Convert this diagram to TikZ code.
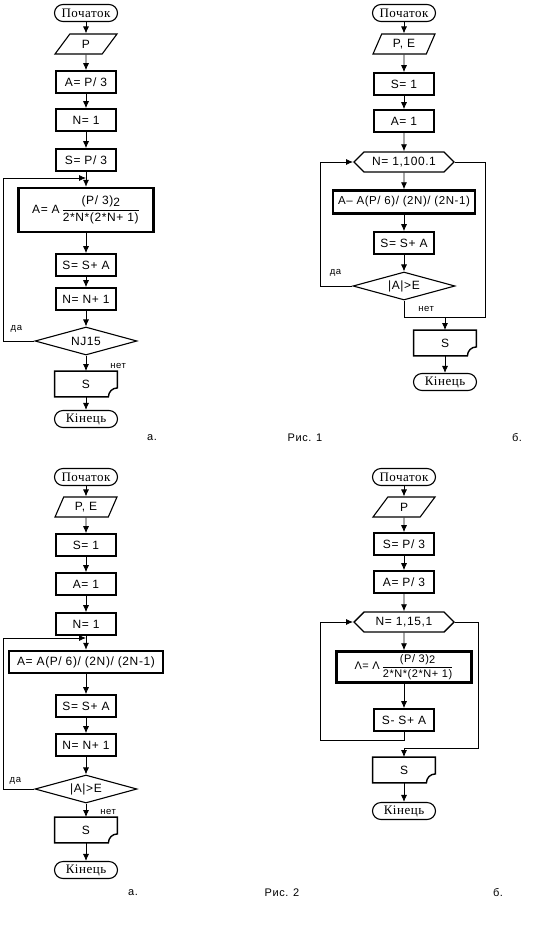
\documentclass[tikz,border=0pt]{standalone}
\usepackage{amsmath}
\usepackage{fontspec}
\setmainfont{Liberation Sans}[LetterSpace=5]
\newfontfamily\termfont{Liberation Serif}[LetterSpace=4]
\usetikzlibrary{positioning,shapes.geometric,shapes.symbols,arrows.meta}
\newcommand{\docshape}[1]{\draw[line width=1.4pt] (#1.north west) -- (#1.north east) -- ([yshift=9pt]#1.south east) arc[start angle=90,end angle=180,radius=9pt] -- (#1.south west) -- cycle;}
\begin{document}
\begin{tikzpicture}[x=1pt,y=1pt,on grid,line width=0.8pt,
>={Latex[length=7pt,width=6pt]},
font=\fontsize{12}{12}\selectfont,
term/.style={rectangle,rounded corners=8.5pt,draw,line width=1.1pt,
  minimum width=63pt,minimum height=17pt,inner sep=0pt,
  font=\termfont\fontsize{13}{13}\selectfont},
io/.style={trapezium,trapezium left angle=66,trapezium right angle=114,
  trapezium stretches=true,draw,line width=1.1pt,
  minimum width=62pt,minimum height=20pt,inner sep=0pt},
proc/.style={rectangle,draw,line width=1.6pt,minimum width=60pt,
  minimum height=22pt,inner sep=1pt},
bigbox/.style={proc,line width=2.4pt},
cond/.style={diamond,draw,line width=1.1pt,aspect=3.6,
  minimum width=102pt,minimum height=28pt,inner sep=0pt},
loopbox/.style={signal,signal to=west and east,signal pointer angle=90,
  draw,line width=1.4pt,minimum width=100pt,minimum height=20pt,inner sep=0pt},
outbox/.style={rectangle,minimum width=62pt,minimum height=25pt,inner sep=0pt},
lab/.style={font=\fontsize{9.5}{10}\selectfont,inner sep=0pt},
figlabel/.style={font=\fontsize{11}{11}\selectfont,inner sep=0pt}]
\useasboundingbox (0,0) rectangle (535,-927);
% Рис. 1 а
\node[term] (a1) at (86,-13) {Початок};
\node[io] (a2) [below=31pt of a1] {P};
\node[proc] (a3) [below=38pt of a2] {A= P/ 3};
\node[proc] (a4) [below=38pt of a3] {N= 1};
\node[proc] (a5) [below=40pt of a4] {S= P/ 3};
\coordinate (a6in) at ([yshift=-18pt]a5.center);
\node[bigbox,minimum width=135pt,minimum height=44pt] (a6) [below=50pt of a5]
  {A= A\,$\dfrac{\text{(P/ 3)\raisebox{-1.5pt}{2}}}{\text{2*N*(2*N+ 1)}}$};
\node[proc] (a7) [below=55pt of a6] {S= S+ A};
\node[proc] (a8) [below=34pt of a7] {N= N+ 1};
\node[cond] (a9) [below=42pt of a8] {NJ15};
\node[outbox] (a10) [below=43pt of a9] {S};
\node[term] (a11) [below=35pt of a10] {Кінець};
\coordinate (aret) at (3,-178);
\node[lab] (a9yes) [above left=8pt and 12pt of a9.west] {да};
\node[lab] (a9no) [below right=7pt and 24pt of a9.south] {нет};
\docshape{a10}
\draw[->] (a1) -- (a2);
\draw[->] (a2) -- (a3);
\draw[->] (a3) -- (a4);
\draw[->] (a4) -- (a5);
\draw (a5) -- (a6in);
\draw[->] (a6in) -- (a6);
\draw[->] (a6) -- (a7);
\draw[->] (a7) -- (a8);
\draw[->] (a8) -- (a9);
\draw[->] (a9) -- (a10);
\draw[->] (a10) -- (a11);
\draw[->] (a9.west) -- (a9.west -| aret) -- (aret) -- (a6in);
% Рис. 1 б
\node[term] (b1) at (404,-13) {Початок};
\node[io] (b2) [below=31pt of b1] {P, E};
\node[proc] (b3) [below=40pt of b2] {S= 1};
\node[proc] (b4) [below=37pt of b3] {A= 1};
\node[loopbox] (b5) [below=41pt of b4] {N= 1,100.1};
\node[bigbox,minimum width=142pt,minimum height=23pt,font=\fontsize{11.5}{12}\selectfont]
  (b6) [below=40pt of b5] {A– A(P/ 6)/ (2N)/ (2N-1)};
\node[proc] (b7) [below=41pt of b6] {S= S+ A};
\node[cond] (b8) [below=43pt of b7] {|A|>E};
\coordinate (bjoin) at ([yshift=-31pt]b8.center);
\node[outbox] (b9) [below right=57pt and 41pt of b8] {S};
\node[term] (b10) [below=39pt of b9] {Кінець};
\coordinate (bleft) at (320,-162);
\coordinate (bright) at (485,-162);
\node[lab] (b8yes) [above left=9pt and 11pt of b8.west] {да};
\node[lab] (b8no) [below right=5pt and 14pt of b8.south] {нет};
\docshape{b9}
\draw[->] (b1) -- (b2);
\draw[->] (b2) -- (b3);
\draw[->] (b3) -- (b4);
\draw[->] (b4) -- (b5);
\draw[->] (b5) -- (b6);
\draw[->] (b6) -- (b7);
\draw[->] (b7) -- (b8);
\draw[->] (b8.west) -- (b8.west -| bleft) -- (bleft) -- (b5.west);
\draw (b5.east) -- (bright) -- (bright |- bjoin) -- (bjoin) -- (b8.south);
\draw[->] (b9 |- bjoin) -- (b9);
\draw[->] (b9) -- (b10);
\node[figlabel] (f1a) at (152,-438) {а.};
\node[figlabel] (f1) at (305,-438) {Рис. 1};
\node[figlabel] (f1b) at (517,-438) {б.};
% Рис. 2 а
\node[term] (c1) at (86,-477) {Початок};
\node[io] (c2) [below=30pt of c1] {P, E};
\node[proc] (c3) [below=38pt of c2] {S= 1};
\node[proc] (c4) [below=39pt of c3] {A= 1};
\node[proc] (c5) [below=40pt of c4] {N= 1};
\coordinate (c6in) at ([yshift=-14pt]c5.center);
\node[bigbox,minimum width=154pt,minimum height=22pt] (c6) [below=38pt of c5]
  {A= A(P/ 6)/ (2N)/ (2N-1)};
\node[proc] (c7) [below=44pt of c6] {S= S+ A};
\node[proc] (c8) [below=39pt of c7] {N= N+ 1};
\node[cond] (c9) [below=44pt of c8] {|A|>E};
\node[outbox] (c10) [below=41pt of c9] {S};
\node[term] (c11) [below=40pt of c10] {Кінець};
\coordinate (cret) at (3,-638);
\node[lab] (c9yes) [above left=4pt and 13pt of c9.west] {да};
\node[lab] (c9no) [below right=5pt and 14pt of c9.south] {нет};
\docshape{c10}
\draw[->] (c1) -- (c2);
\draw[->] (c2) -- (c3);
\draw[->] (c3) -- (c4);
\draw[->] (c4) -- (c5);
\draw (c5) -- (c6in);
\draw[->] (c6in) -- (c6);
\draw[->] (c6) -- (c7);
\draw[->] (c7) -- (c8);
\draw[->] (c8) -- (c9);
\draw[->] (c9) -- (c10);
\draw[->] (c10) -- (c11);
\draw[->] (c9.west) -- (c9.west -| cret) -- (cret) -- (c6in);
% Рис. 2 б
\node[term] (d1) at (404,-477) {Початок};
\node[io] (d2) [below=30pt of d1] {P};
\node[proc] (d3) [below=37pt of d2] {S= P/ 3};
\node[proc] (d4) [below=38pt of d3] {A= P/ 3};
\node[loopbox] (d5) [below=40pt of d4] {N= 1,15,1};
\node[bigbox,minimum width=135pt,minimum height=31pt,font=\fontsize{11}{12}\selectfont]
  (d6) [below=45pt of d5]
  {Λ= Λ\,$\dfrac{\text{(P/ 3)\raisebox{-1.5pt}{2}}}{\text{2*N*(2*N+ 1)}}$};
\node[proc] (d7) [below=53pt of d6] {S- S+ A};
\coordinate (dback) at ([yshift=-20pt]d7.center);
\coordinate (djoin) at ([yshift=-28pt]d7.center);
\node[outbox] (d8) [below=50pt of d7] {S};
\node[term] (d9) [below=41pt of d8] {Кінець};
\coordinate (dleft) at (320,-622);
\coordinate (dright) at (478,-622);
\docshape{d8}
\draw[->] (d1) -- (d2);
\draw[->] (d2) -- (d3);
\draw[->] (d3) -- (d4);
\draw[->] (d4) -- (d5);
\draw[->] (d5) -- (d6);
\draw[->] (d6) -- (d7);
\draw[->] (d7) -- (dback) -- (dback -| dleft) -- (dleft) -- (d5.west);
\draw[->] (d5.east) -- (dright) -- (dright |- djoin) -- (djoin) -- (d8);
\draw[->] (d8) -- (d9);
\node[figlabel] (f2a) at (133,-893) {а.};
\node[figlabel] (f2) at (282,-893) {Рис. 2};
\node[figlabel] (f2b) at (498,-893) {б.};
\end{tikzpicture}
\end{document}
